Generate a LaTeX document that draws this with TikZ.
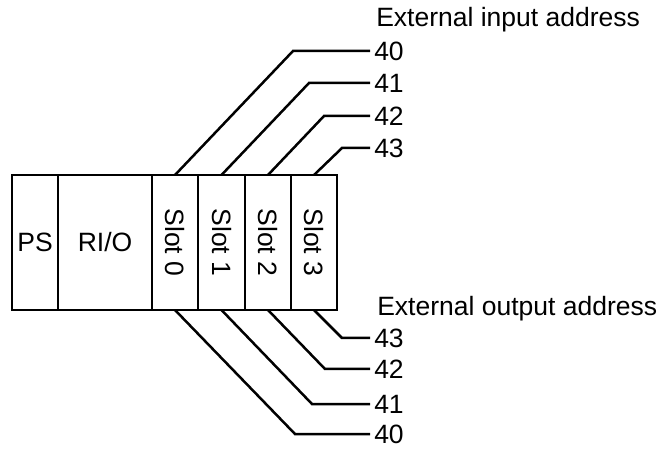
\documentclass[tikz,border=0pt]{standalone}
\usepackage{fontspec}
\setmainfont{Liberation Sans}
\usepackage{graphicx}
\usetikzlibrary{positioning, calc}

\begin{document}
\begin{tikzpicture}[x=1pt, y=-1pt, line width=2.5pt, every node/.style={font=\fontsize{26.5pt}{32pt}\selectfont},
  unit/.style={draw, outer sep=0pt, inner sep=0pt, minimum height=135pt, minimum width=46pt},
  addr/.style={anchor=west, inner sep=3pt}]
  \useasboundingbox (0,0) rectangle (662,449);
  \node[unit, anchor=north west] (ps) at (12,175) {PS};
  \node[unit, minimum width=94pt, right=0pt of ps] (rio) {RI/O};
  \node[unit, right=0pt of rio] (slot0) {\rotatebox{-90}{Slot 0}};
  \node[unit, minimum width=47pt, right=0pt of slot0] (slot1) {\rotatebox{-90}{Slot 1}};
  \node[unit, right=0pt of slot1] (slot2) {\rotatebox{-90}{Slot 2}};
  \node[unit, right=0pt of slot2] (slot3) {\rotatebox{-90}{Slot 3}};

  \node[anchor=base west, inner sep=0pt] (inhead) at (375,27) {External input address};
  \node[addr] (in40) at (370,51) {40};
  \node[addr] (in41) at (370,83) {41};
  \node[addr] (in42) at (370,116) {42};
  \node[addr] (in43) at (370,148) {43};
  \coordinate (ci0) at ([xshift=-77pt]in40.west);
  \coordinate (ci1) at ([xshift=-61pt]in41.west);
  \coordinate (ci2) at ([xshift=-46pt]in42.west);
  \coordinate (ci3) at ([xshift=-28pt]in43.west);
  \draw (slot0.north) -- (ci0) -- (in40.west);
  \draw (slot1.north) -- (ci1) -- (in41.west);
  \draw (slot2.north) -- (ci2) -- (in42.west);
  \draw (slot3.north) -- (ci3) -- (in43.west);

  \node[anchor=base west, inner sep=0pt] (outhead) at (376,316) {External output address};
  \node[addr] (out43) at (370,338) {43};
  \node[addr] (out42) at (370,369) {42};
  \node[addr] (out41) at (370,404) {41};
  \node[addr] (out40) at (370,434) {40};
  \coordinate (co3) at ([xshift=-28pt]out43.west);
  \coordinate (co2) at ([xshift=-45pt]out42.west);
  \coordinate (co1) at ([xshift=-58pt]out41.west);
  \coordinate (co0) at ([xshift=-75pt]out40.west);
  \draw (slot0.south) -- (co0) -- (out40.west);
  \draw (slot1.south) -- (co1) -- (out41.west);
  \draw (slot2.south) -- (co2) -- (out42.west);
  \draw (slot3.south) -- (co3) -- (out43.west);
\end{tikzpicture}
\end{document}
